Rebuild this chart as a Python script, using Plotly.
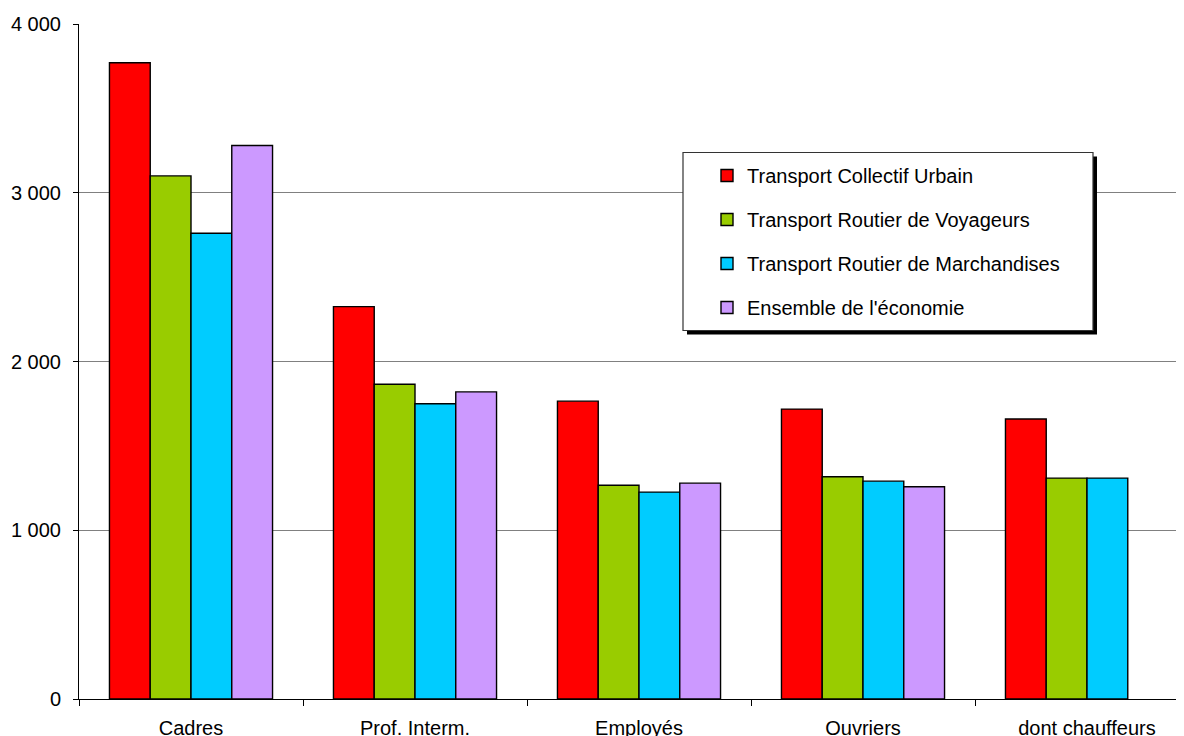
import plotly.graph_objects as go

# Categories and series
categories = ["Cadres", "Prof. Interm.", "Employés", "Ouvriers", "dont chauffeurs"]

series_names = [
    "Transport Collectif Urbain",
    "Transport Routier de Voyageurs",
    "Transport Routier de Marchandises",
    "Ensemble de l'économie",
]
tcu = [3770, 2325, 1765, 1718, 1659]
trv = [3100, 1865, 1267, 1317, 1309]
trm = [2760, 1750, 1226, 1291, 1309]
eco = [3280, 1820, 1279, 1258, None]

colors = ["#FF0000", "#99CC00", "#00CCFF", "#CC99FF"]

# the page body adds an 8px offset, so the figure is a bit smaller
OFF = 8
W, H = 1184 - OFF, 736 - OFF
ML, MR, MT, MB = 79 - OFF, 0, 24 - OFF, 37
PW, PH = W - ML - MR, H - MT - MB


def px_x(x):
    # screen pixel -> paper coordinate
    return (x - OFF - ML) / PW


def px_y(y):
    return (H + OFF - MB - y) / PH


fig = go.Figure()
for i, (name, vals) in enumerate(zip(series_names, [tcu, trv, trm, eco])):
    fig.add_trace(go.Bar(
        x=categories,
        y=vals,
        name=name,
        legendgroup="g%d" % i,
        marker=dict(color=colors[i], line=dict(color="#000000", width=1.4)),
    ))

# legend box with drop shadow
fig.add_shape(type="rect", xref="paper", yref="paper",
              x0=px_x(687), x1=px_x(1097), y0=px_y(334.5), y1=px_y(156.5),
              fillcolor="#000000", line=dict(width=0), layer="above")
fig.add_shape(type="rect", xref="paper", yref="paper",
              x0=px_x(683), x1=px_x(1093), y0=px_y(330.5), y1=px_y(152.5),
              fillcolor="#FFFFFF", line=dict(color="#333333", width=1.2), layer="above")

fig.update_layout(
    width=W, height=H,
    margin=dict(l=ML, r=MR, t=MT, b=MB),
    paper_bgcolor="white",
    plot_bgcolor="white",
    font=dict(family="Liberation Sans, Arial, sans-serif", size=20, color="#000000"),
    separators=", ",
    barmode="group",
    bargap=0.272,
    bargroupgap=0,
    showlegend=True,
    legend=dict(
        x=px_x(707), xanchor="left",
        y=px_y(156), yanchor="top",
        bgcolor="rgba(0,0,0,0)",
        borderwidth=0,
        tracegroupgap=15,
        traceorder="grouped",
        font=dict(size=20),
    ),
    xaxis=dict(
        range=[-0.5, -0.5 + PW / 224],
        showline=True, linecolor="#000000", linewidth=1,
        ticks="outside", tickson="boundaries", ticklen=6, tickcolor="#000000",
        showgrid=False,
        ticklabelstandoff=11,
        automargin=False,
    ),
    yaxis=dict(
        range=[0, 4000],
        tickvals=[0, 1000, 2000, 3000, 4000],
        tickformat=",d",
        showline=True, linecolor="#000000", linewidth=1,
        ticks="outside", ticklen=5, tickcolor="#000000",
        showgrid=True, gridcolor="#808080", gridwidth=1,
        zeroline=False,
        ticklabelstandoff=8,
        automargin=False,
    ),
)

fig.write_html("out.html")
